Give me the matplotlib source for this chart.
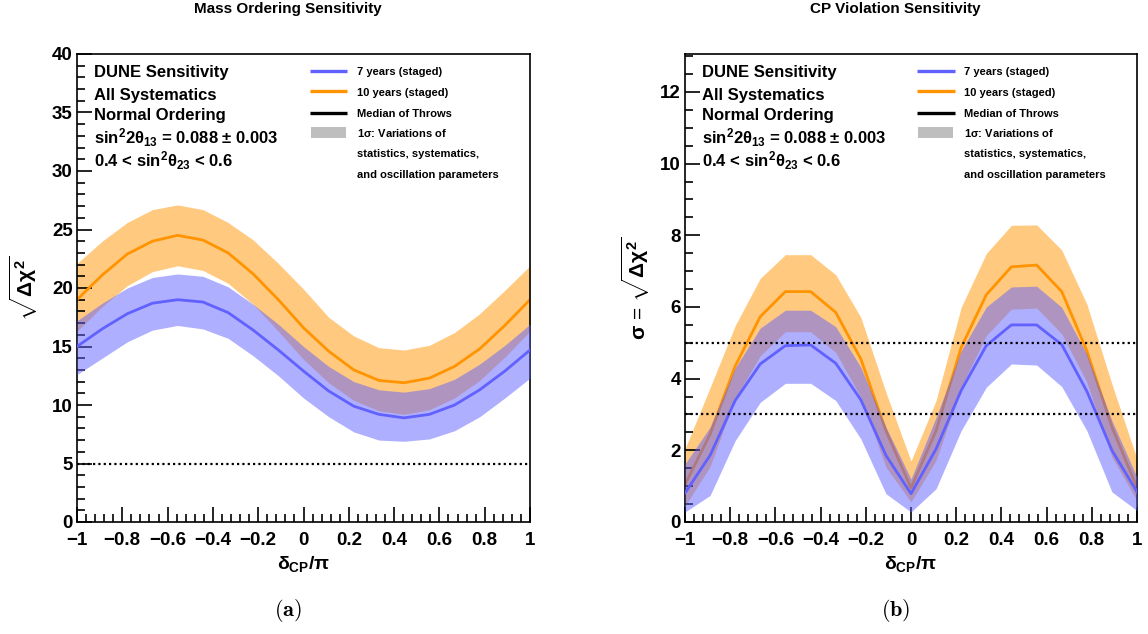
import numpy as np
import matplotlib
matplotlib.use("Agg")
import matplotlib.pyplot as plt
from matplotlib.patches import Rectangle
from matplotlib.ticker import MultipleLocator, FixedLocator, FixedFormatter

# ---------------- data ----------------
delta_cp = [-1.0, -0.889, -0.778, -0.667, -0.556, -0.444, -0.333, -0.222, -0.111, 0.0,
            0.111, 0.222, 0.333, 0.444, 0.556, 0.667, 0.778, 0.889, 1.0]

# Mass ordering sensitivity
mo_10y_med = [19.0, 21.1, 22.9, 24.0, 24.5, 24.1, 23.0, 21.2, 19.0, 16.6,
              14.6, 13.0, 12.1, 11.9, 12.3, 13.3, 14.8, 16.8, 19.0]
mo_10y_hi = [22.1, 24.0, 25.6, 26.7, 27.1, 26.7, 25.6, 24.1, 22.1, 19.9,
             17.5, 15.9, 14.9, 14.7, 15.1, 16.2, 17.8, 19.8, 21.9]
mo_10y_lo = [16.3, 18.4, 20.2, 21.4, 21.9, 21.5, 20.4, 18.6, 16.3, 13.9,
             11.9, 10.4, 9.5, 9.2, 9.6, 10.6, 12.1, 14.1, 16.3]
mo_7y_med = [15.0, 16.5, 17.8, 18.7, 19.0, 18.8, 17.9, 16.4, 14.7, 12.9,
             11.2, 9.9, 9.2, 8.9, 9.2, 10.0, 11.3, 12.9, 14.7]
mo_7y_hi = [17.2, 18.7, 20.0, 20.9, 21.2, 21.0, 20.1, 18.6, 16.9, 15.0,
            13.3, 12.0, 11.3, 11.1, 11.4, 12.2, 13.5, 15.1, 16.9]
mo_7y_lo = [12.6, 14.0, 15.4, 16.4, 16.8, 16.5, 15.7, 14.2, 12.5, 10.6,
            9.0, 7.7, 7.0, 6.9, 7.1, 7.8, 9.0, 10.6, 12.3]

# CP violation sensitivity
cpv_10y_med = [1.05, 2.45, 4.35, 5.73, 6.43, 6.43, 5.85, 4.55, 2.55, 0.95,
               2.55, 4.87, 6.34, 7.12, 7.17, 6.43, 4.78, 2.65, 0.96]
cpv_10y_hi = [2.04, 3.75, 5.48, 6.80, 7.46, 7.46, 6.90, 5.71, 3.62, 1.70,
              3.39, 5.99, 7.49, 8.28, 8.29, 7.59, 6.08, 3.85, 1.76]
cpv_10y_lo = [0.45, 1.55, 3.45, 4.64, 5.31, 5.31, 4.73, 3.48, 1.53, 0.56,
              1.72, 3.76, 5.20, 5.94, 5.97, 5.25, 3.90, 1.81, 0.60]
cpv_7y_med = [0.81, 1.86, 3.39, 4.41, 4.92, 4.94, 4.43, 3.41, 1.86, 0.79,
              2.04, 3.67, 4.92, 5.50, 5.50, 4.95, 3.65, 2.00, 0.84]
cpv_7y_hi = [1.62, 2.65, 4.30, 5.41, 5.91, 5.91, 5.45, 4.32, 2.65, 1.20,
             2.92, 4.78, 6.00, 6.56, 6.58, 5.99, 4.69, 2.83, 1.25]
cpv_7y_lo = [0.28, 0.74, 2.27, 3.34, 3.87, 3.87, 3.39, 2.32, 0.79, 0.28,
             0.93, 2.55, 3.76, 4.41, 4.38, 3.78, 2.55, 0.84, 0.32]

mo_ref_lines = [5]
cpv_ref_lines = [3, 5]

x_ticks = [-1, -0.8, -0.6, -0.4, -0.2, 0, 0.2, 0.4, 0.6, 0.8, 1]
x_ticklabels = ["\u22121", "\u22120.8", "\u22120.6", "\u22120.4", "\u22120.2", "0",
                "0.2", "0.4", "0.6", "0.8", "1"]
mo_yticks = [0, 5, 10, 15, 20, 25, 30, 35, 40]
cpv_yticks = [0, 2, 4, 6, 8, 10, 12]

legend_labels = ["7 years (staged)", "10 years (staged)", "Median of Throws",
                 "1$\\sigma$: Variations of", "statistics, systematics,",
                 "and oscillation parameters"]
info_lines = ["DUNE Sensitivity", "All Systematics", "Normal Ordering",
              "sin$^{2}$2$\\theta_{13}$ = 0.088 $\\pm$ 0.003",
              "0.4 < sin$^{2}$$\\theta_{23}$ < 0.6"]

# ---------------- style ----------------
plt.rcParams['font.family'] = ['Liberation Sans', 'DejaVu Sans']
plt.rcParams['font.weight'] = 'bold'
plt.rcParams['mathtext.fontset'] = 'custom'
plt.rcParams['mathtext.rm'] = 'Liberation Sans:bold'
plt.rcParams['mathtext.it'] = 'Liberation Sans:bold'
plt.rcParams['mathtext.bf'] = 'Liberation Sans:bold'
plt.rcParams['mathtext.sf'] = 'Liberation Sans:bold'

ORANGE = '#FF9400'
BLUE = '#6161FF'

W, H = 1148, 634
fig = plt.figure(figsize=(W / 100, H / 100), dpi=100)

ax1 = fig.add_axes([77 / W, 1 - 522 / H, 453 / W, 468 / H])
ax2 = fig.add_axes([685 / W, 1 - 522 / H, 452 / W, 468 / H])


def draw(ax, med10, lo10, hi10, med7, lo7, hi7, refs):
    ax.fill_between(delta_cp, lo10, hi10, color=ORANGE, alpha=0.5, lw=0, zorder=1)
    ax.plot(delta_cp, med10, color=ORANGE, lw=2.0, zorder=2)
    ax.fill_between(delta_cp, lo7, hi7, color=BLUE, alpha=0.5, lw=0, zorder=3)
    ax.plot(delta_cp, med7, color=BLUE, lw=2.0, zorder=4)
    for r in refs:
        ax.axhline(r, color='black', ls=(0, (1, 1.4)), lw=1.6, zorder=5)


def style(ax, yticks, ymax, yminor):
    ax.set_xlim(-1, 1)
    ax.set_ylim(0, ymax)
    ax.xaxis.set_major_locator(FixedLocator(x_ticks))
    ax.xaxis.set_major_formatter(FixedFormatter(x_ticklabels))
    ax.xaxis.set_minor_locator(MultipleLocator(0.04))
    ax.yaxis.set_major_locator(FixedLocator(yticks))
    ax.yaxis.set_minor_locator(MultipleLocator(yminor))
    ax.tick_params(which='both', direction='in', top=False, right=False, width=1.2)
    ax.tick_params(which='major', length=11, labelsize=13.5)
    ax.tick_params(which='minor', length=6)
    ax.tick_params(axis='y', pad=3)
    ax.tick_params(axis='x', pad=7.5)
    for s in ax.spines.values():
        s.set_linewidth(1.2)
    ax.set_xlabel(r'$\delta_{\mathbf{CP}}/\pi$', fontsize=14, labelpad=3)

    # info text
    ys = [0.950, 0.9025, 0.858, 0.808, 0.760]
    for t, y in zip(info_lines, ys):
        ax.text(0.037, y, t, transform=ax.transAxes, fontsize=12, va='baseline', ha='left')

    # legend
    ly = [0.963, 0.920, 0.875]
    cols = [BLUE, ORANGE, 'black']
    for y, c in zip(ly, cols):
        ax.plot([0.514, 0.597], [y, y], color=c, lw=2.4, transform=ax.transAxes,
                clip_on=False, solid_capstyle='butt')
    ax.add_patch(Rectangle((0.516, 0.8205), 0.077, 0.023, transform=ax.transAxes,
                           facecolor='#BEBEBE', edgecolor='none'))
    tys = [0.9545, 0.910, 0.866, 0.822, 0.779, 0.7345]
    for t, y in zip(legend_labels, tys):
        ax.text(0.617, y, t, transform=ax.transAxes, fontsize=8, va='baseline', ha='left')


draw(ax1, mo_10y_med, mo_10y_lo, mo_10y_hi, mo_7y_med, mo_7y_lo, mo_7y_hi, mo_ref_lines)
style(ax1, mo_yticks, 40, 1)
draw(ax2, cpv_10y_med, cpv_10y_lo, cpv_10y_hi, cpv_7y_med, cpv_7y_lo, cpv_7y_hi, cpv_ref_lines)
style(ax2, cpv_yticks, 13.06, 0.5)

ax1.set_ylabel(r'$\sqrt{\Delta\chi^{2}}$', fontsize=15, labelpad=9)
ax2.set_ylabel(r'$\sigma$ = $\sqrt{\Delta\chi^{2}}$', fontsize=15, labelpad=6)

for ax, title, cap in [(ax1, 'Mass Ordering Sensitivity', '(a)'),
                       (ax2, 'CP Violation Sensitivity', '(b)')]:
    x_fig = (ax.get_position().x0 + 0.466 * ax.get_position().width)
    fig.text(x_fig, 1 - 9 / H, title, fontsize=11, ha='center', va='center')
    fig.text(x_fig, 1 - 610 / H, r'$\mathbf{' + cap + '}$', fontsize=16, ha='center',
             va='center', math_fontfamily='cm')

fig.savefig('out.png', dpi=100)
